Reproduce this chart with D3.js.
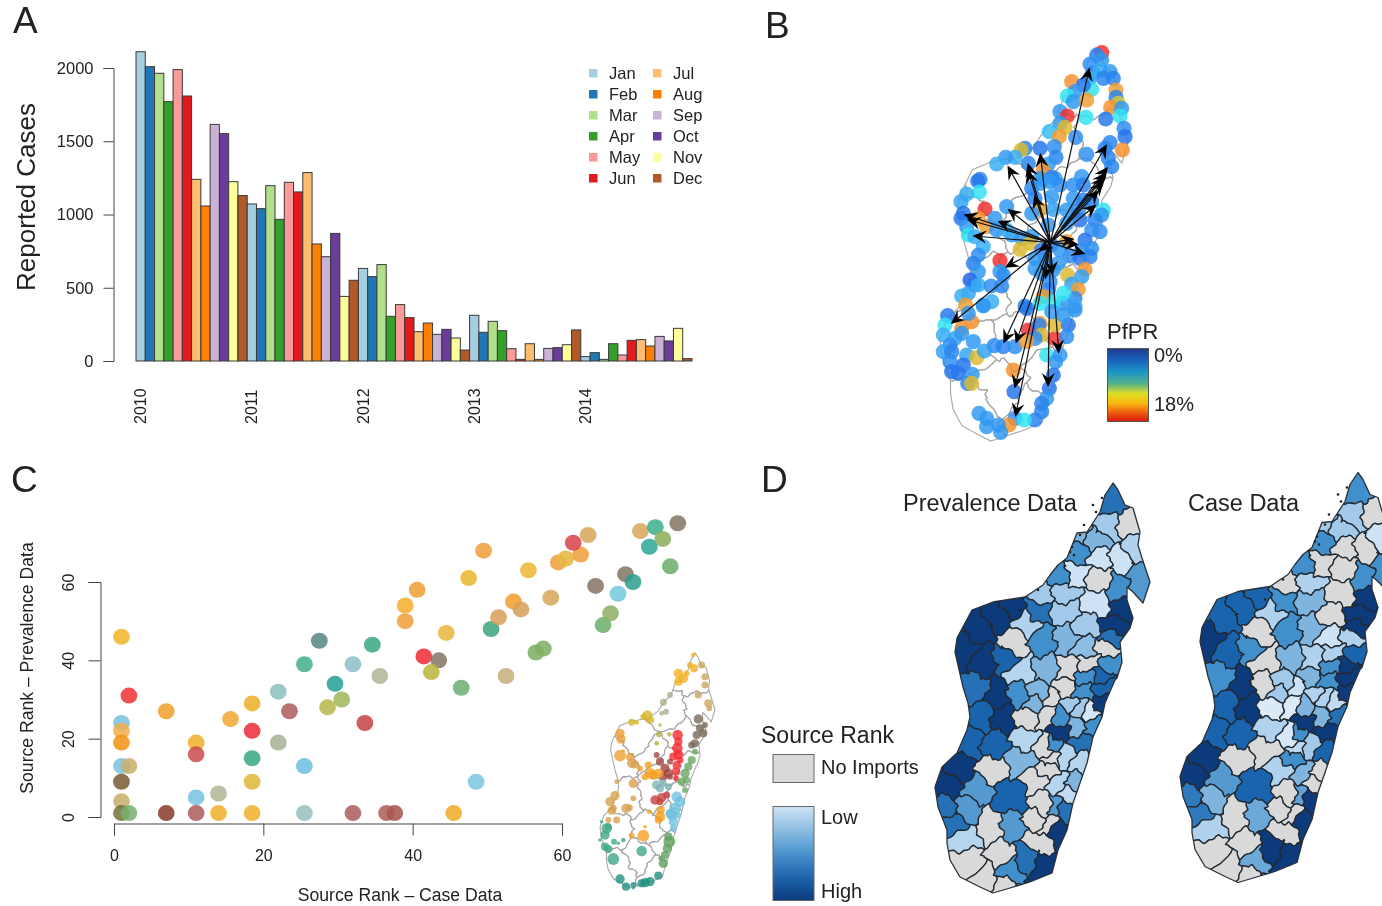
<!DOCTYPE html>
<html><head><meta charset="utf-8">
<script src="https://cdn.jsdelivr.net/npm/d3@7/dist/d3.min.js"></script>
<style>html,body{margin:0;background:#fff}svg{display:block;filter:blur(.5px)}text{font-family:"Liberation Sans",Arial,sans-serif;fill:#222}</style>
</head><body><svg id="c" width="1382" height="906"></svg>
<script>
// ---------- Panel A
const years=["2010","2011","2012","2013","2014"];
const months=["Jan","Feb","Mar","Apr","May","Jun","Jul","Aug","Sep","Oct","Nov","Dec"];
const cases2010=[2111,2009,1964,1770,1989,1809,1240,1058,1615,1552,1224,1129];
const cases2011=[1072,1040,1197,967,1220,1154,1286,799,712,871,441,551];
const cases2012=[632,576,658,305,385,296,200,259,182,216,157,75];
const cases2013=[312,196,271,207,84,11,118,11,86,91,111,212];
const cases2014=[30,57,11,118,41,141,146,102,168,137,223,16];
const caseTicks=[0,500,1000,1500,2000];
// ---------- Panel B (crop-window read-offs, three windows)
const pfNorthX=[425,410,425,390,400,420,450,460,430,390,395,335,370,345,322,340,380,300,322,378,300,315,268,298,347,468,468,475,452,485,480,437,492,495,450,487,435,380,283,288,240,265,195,183,165,137,110,205,250,445,455,285,60,240,275,365];
const pfNorthY=[38,45,60,72,100,90,95,115,115,115,148,125,135,155,168,185,180,215,228,232,250,262,275,290,292,150,172,190,202,205,228,237,265,290,308,330,325,343,320,352,325,372,325,330,352,352,372,370,392,355,380,415,418,415,412,410];
const pfNorthV=[18,2,3,2.5,2,4,3,2,2,4,6,14,1.5,3,6,3,13,3,18,6,3,11,4.5,13,2.5,13,2,10,14,3,6,1.5,2.5,1.5,2,14,2,2.5,2.5,2,1.5,3,2,11,4,3,4,2,14,2,2,3,2,3,2,3];
const pfMidX=[128,133,95,78,150,215,85,78,130,95,155,180,185,100,120,145,130,115,130,195,195,205,105,118,130,100,80,168,200,92,145,170,290,315,345,375,415,445,350,300,315,290,355,415,445,395,430,470,505,500,480,435,395,340,470,450,495,470,395,440,405,435,465,290,260,285,255,320,350,375,300,330,370,300,320,355,450,398,440,410,430,420,385,420,345,340,325,270,315,355,385,230,215];
const pfMidY=[33,66,72,95,117,110,130,145,145,170,170,145,180,195,200,230,255,280,305,272,305,315,330,345,345,370,378,348,348,405,405,395,55,40,35,45,45,45,80,85,118,130,118,85,90,120,120,95,120,135,150,150,160,165,180,210,185,235,215,240,258,265,260,200,205,220,238,240,225,240,265,270,280,295,310,300,298,315,320,342,358,385,400,410,335,360,380,408,400,395,370,195,180];
const pfMidV=[1.5,6,4,3.5,18,3,1.5,1.5,13,3,13,3,3,6,4,4,2.5,2,3,18,3,2.5,1,1.5,4,3.5,4,2.5,2,13,3,4,2,3,3,2.5,2.5,2,3,2,13,3,3.5,3,2,3,2.5,2,6,3,2,1.5,3,3,2.5,1.5,2.5,2.5,13,2.5,2.5,1.5,2,3,3,11,11,1.5,1.5,3,3,3,3,3,3,3,14,11,3.5,3.5,13,2.5,3,3.5,2.5,2,13,2,6,6,6,3,4];
const pfSouthX=[38,30,80,110,100,145,25,60,80,115,45,25,50,95,125,148,178,205,240,45,85,50,70,112,98,110,235,237,275,315,280,312,320,360,360,400,385,420,350,395,300,275,335,375,362,355,343,335,320,320,300,240,268,222,190,197,155,155,132];
const pfSouthY=[32,60,70,50,25,3,90,100,85,110,120,140,140,150,158,138,122,125,125,170,180,200,205,208,235,235,195,260,10,55,75,60,90,100,60,60,30,15,20,95,100,110,150,150,170,210,250,280,295,320,345,340,345,360,360,382,365,340,325];
const pfSouthV=[1.5,6,14,14,3,3,4,3.5,3,3,2.5,3.5,2,3.5,11,3.5,2.5,2,2.5,2.5,1.5,1.5,1.5,3,2,11,14,1.5,1.5,13,18,2,11,18,11,1.5,3,3,3,2.5,2.5,13,6,3,3,1.5,1.5,3,2,2,2,2.5,6,14,3,3,3,3,3];
const arrowHeadX=[512,563,566,560,555,552,538,530,462,475,495,400,380,420,388,290,288,292,255,98,262,365,165,148,138,240,270,268,348,328,328,365];
const arrowHeadY=[88,318,385,402,415,430,455,497,598,613,640,700,712,935,1035,1125,1040,905,905,848,680,630,588,540,525,545,510,382,470,375,395,345];
const pfprTicks=["0%","18%"];
// ---------- Panel C
const caseRankX=[1,2,1,1,1,1,2,1,1,1,2,7,7,11,11,11,11,14,14,15.6,18.5,18.5,18.5,18.5,18.5,22,22,23.5,25.5,25.5,25.5,27.5,28.6,29.6,30.5,32,32,33.6,34.6,35.6,36.5,37.6,39,39,40.6,41.5,43.5,42.5,44.5,45.5,46.5,48.5,47.5,49.5,50.5,51.5,52.5,53.5,54.5,55.5,56.5,57.5,58.5,59.5,60.5,62.5,61.5,63.5,64.5,65.5,66.5,67.5,68.5,69.5,70.5,71.7,72.5,73.5,74.5,75.5];
const prevRankY=[46,31,24,22,19,13,13,9,4,1,1,1,27,19,16,5,1,6,1,25,29,22,15,9,1,32,19,27,39,13,1,45,28,34,30,39,1,24,44,36,1,1,54,50,58,41,40,37,47,1,33,9,61,68,48,51,36,55,53,63,42,43,56,65,66,67,70,72,59,49,52,57,62,60,73,69,74,71,64,75];
const rankColors=["#f2b62e","#f03838","#7cc4e0","#f2b04e","#f5941a","#7cc4e0","#c8b070","#806038","#c8b070","#77783f","#7ab070","#8a4030","#f0a030","#f0b030","#cc5050","#7cc4e0","#b06060","#b0b898","#f0b030","#f0a838","#eeb030","#f03040","#40a888","#e0b840","#f0b030","#90c0c0","#a8b498","#b06060","#48b090","#70c0e0","#98c0c0","#5a8a88","#b8b850","#28a098","#a0b860","#90c0c8","#b06060","#c84848","#40a888","#b0b898","#b06060","#a85850","#f5b030","#f0a040","#f0a038","#f03038","#887868","#b8b840","#e8b840","#f0ac28","#70b078","#80c8e0","#e8b830","#f0a040","#40a880","#d8a060","#c8b080","#f0a030","#d8a060","#ecb838","#80b068","#80b068","#d8a860","#f0a040","#e8b840","#f0a040","#d84850","#d8a860","#887868","#70b070","#90b068","#78c8e0","#887868","#30a090","#d8a860","#30a898","#40b090","#90b060","#70b070","#887868"];
const rankTicks=[0,20,40,60];
// inset clusters
const insetX=[312,265,280,265,290,310,300,335,345,345,325,355,358,325,330,340,320,315,305,345,220,240,228,215,172,182,160,125,140,207,238,200,210,90,93,100,90,120,263,265,262,265,250,270,260,258,258,200,210,225,235,220,240,240,175,180,190,205,165,150,125,135,80,75,60,65,70,108,118,80,55,130,130,200,210,220,235,195,215,230,210,212,210,205,178,160,125,165,260,270,255,245,262,250,240,250,315,305,295,285,275,290,285,235,238,232,225,220,212,50,45,55,35,30,45,55,70,72,100,85,155,205,180,165,155,130,108,90,130];
const insetY=[70,85,100,110,85,30,60,60,95,120,150,175,190,222,250,265,270,295,300,240,172,150,200,205,212,225,215,232,232,268,268,295,240,265,282,318,332,336,270,290,310,328,335,345,360,380,400,330,350,370,385,395,395,350,360,385,390,385,395,370,355,358,410,452,470,497,490,490,488,525,525,415,460,420,430,415,425,465,458,450,470,495,515,525,500,572,572,545,455,470,490,510,510,530,505,550,320,345,365,385,410,405,435,575,590,610,630,655,640,550,570,545,530,585,605,612,642,590,585,595,618,692,710,713,715,720,725,702,730];
const insetR=[7,8,8,7,5,4,5,6,6,6,6,7,5,8,7,7,7,7,6,5,6,5,5,4,9,6,5,6,4,5,4,4,3,8,8,3,10,7,9,7,9,8,7,6,7,7,5,5,7,8,8,7,5,5,6,9,8,8,6,5,8,7,4,8,8,7,6,8,6,6,5,8,5,8,7,6,6,8,8,6,6,7,9,6,4,10,5,3,9,9,10,9,6,8,8,6,5,7,7,8,7,6,5,7,10,8,7,8,4,9,8,6,3,3,7,7,10,5,4,3,9,7,8,8,7,5,7,8,2];
const insetCluster=[0,0,0,0,0,0,0,1,1,1,1,1,1,2,2,2,2,2,2,2,3,3,3,3,4,4,4,4,4,5,5,5,5,6,6,6,6,6,7,7,7,7,7,7,7,7,7,8,8,8,8,8,8,8,9,9,9,9,9,9,10,10,10,10,10,10,10,10,10,10,10,10,10,11,11,11,11,12,12,12,12,9,9,9,9,9,9,9,13,13,13,13,13,13,13,13,14,14,14,14,14,14,14,15,15,15,15,15,15,16,16,16,16,16,16,16,16,16,16,16,16,17,17,17,17,17,17,17,17];
const clusterColors=["#f2b020","#c8a860","#7a6a5a","#a9b08c","#d6b52c","#b5b040","#ee9f38","#f52a30","#a04840","#f5a020","#d8a050","#7fb5b5","#c84040","#70c0e0","#6aa860","#60a060","#40a888","#209080"];
// ---------- Panel D: district centres and source ranks (0 = no imports)
const districtX=[550,530,595,495,445,445,505,575,610,440,385,510,630,570,330,405,500,410,250,320,205,570,555,465,290,150,410,340,250,465,545,530,105,165,225,270,350,415,475,545,465,515,
140,200,215,265,325,370,400,460,520,510,310,420,450,480,155,290,350,395,440,485,390,190,290,115,375,455,350,405,450,275,365,90,185,355,430,320,390,50,140,245,410,340,380,410,40,110,75,245,320,350,180,385,110,330,295,210,120,235,345,165,215];
const districtY=[85,150,140,195,180,235,250,250,225,295,305,310,320,340,355,360,385,405,395,405,430,405,450,450,445,460,490,500,505,520,490,520,520,560,550,590,585,585,565,565,610,610,
645,665,725,655,650,665,645,645,630,690,685,690,705,707,720,730,725,725,760,755,775,810,795,805,810,800,820,840,860,860,850,875,885,885,925,915,925,935,945,965,960,990,990,1005,990,1005,1045,1055,1035,1055,1060,1075,1085,1100,1150,1140,1160,1185,1180,1205,1235];
const prevalenceRank=[3.7,1.5,0,2,2,3,.7,.7,1.3,.7,3,0,2.7,3,1.5,1.5,.7,1.5,5,3.7,5,5,5,1.5,1.3,5,2,3,0,1.8,3.7,0,5,5,4,1.2,2,0,0,3,3,4,
3.7,5,5,3,2,0,0,3,4,5,2,1.5,1.5,.5,4,0,0,3,2,3,5,4,1.2,4,3,3.7,0,1.2,1.2,2,0,5,0,0,2,0,1.2,5,2.7,4,1,0,2.7,3.7,3.7,2.7,3.7,2.7,0,0,0,5,1.2,0,3.7,0,0,3,5,0,0];
const caseDataRank=[3,1.5,0,1.5,1.5,3,0,0,.7,0,3,0,3,3,0,1.3,0,2,4,3,4,5,5,0,1.3,4,2,3,0,.7,5,1.3,5,4,3,0,2,1.3,1.3,4,3,5,
3,5,5,0,1.5,.7,2,3,5,5,1.5,1.3,1.3,1,4,.4,.4,2,2,3.7,5,4,1.3,4,3,5,.5,1.5,4,0,1,5,0,3,0,1.3,2,5,2.7,4,0,0,2.5,5,3.5,2,3.5,2.3,0,0,0,5,1.3,0,5,0,0,2.3,5,0,0];
const rankBreaks=[.4,1.3,2,3,4,5];
const rankShades=["#dceaf8","#b0d2ee","#7fb4de","#418fcb","#1a64ad","#0c3a7b"];
// Coast and region centres, in map units
const coastX=[1113,1118,1125,1133,1140,1138,1142,1150,1143,1133,1127,1127,1133,1130,1120,1122,1117,1115,1105,1102,1093,1087,1080,1073,1067,1058,1052,1030,1010,993,980,960,950,947,947,938,935,942,957,967,970,968,963,955,957,972,993,1025,1043,1050,1058,1067,1077,1087,1100,1105];
const coastY=[483,490,505,508,532,545,558,582,603,592,587,600,618,628,642,662,678,680,703,717,737,763,783,803,830,850,873,882,888,893,887,877,860,843,830,807,787,767,753,730,717,703,687,652,638,610,602,597,585,575,565,558,533,532,512,495];
const regionX=[1112,1125,1065,1010,1090,970,1030,1105,1060,985,1035,1090,1065,1030,960,1060,1010,970,1040];
const regionY=[520,585,590,640,625,670,655,690,680,735,730,740,770,790,790,820,840,860,860];
const isletX=[1093,1072,1084,1038,1020,1102,1074,1065,1096,1080,1070];
const isletY=[505,547,525,590,610,498,555,566,512,535,552];

const svg=d3.select("#c");
const defs=svg.append("defs");
function txt(x,y,s,size,o={}){const t=svg.append("text").attr("x",x).attr("y",y).attr("font-size",size).text(s);
 if(o.anchor)t.attr("text-anchor",o.anchor); if(o.rot!=null)t.attr("transform",`rotate(${o.rot},${x},${y})`); if(o.fill)t.style("fill",o.fill); return t;}
txt(13,33,"A",37);txt(765,38,"B",37);txt(11,492,"C",37);txt(761,492,"D",37);

// ===== A
const monthly=[cases2010,cases2011,cases2012,cases2013,cases2014].flat();
const xA=d3.scaleBand().domain(d3.range(monthly.length)).range([136,692]).paddingInner(0);
const yA=d3.scaleLinear().domain([0,2000]).range([361,68]);
const monthColor=d3.scaleOrdinal(months,d3.schemePaired);
svg.append("g").selectAll("rect").data(monthly).join("rect")
 .attr("x",(d,i)=>xA(i)).attr("width",xA.bandwidth()).attr("y",d=>yA(d)).attr("height",d=>yA(0)-yA(d))
 .attr("fill",(d,i)=>monthColor(months[i%12])).attr("stroke","#3a3a3a").attr("stroke-width",1);
const axA=svg.append("g").attr("transform","translate(113.5,0)").call(d3.axisLeft(yA).tickValues(caseTicks).tickSize(10).tickPadding(10).tickFormat(d3.format("d")));
axA.selectAll("text").attr("font-size",16.5).style("font-family",'"Liberation Sans"');
axA.selectAll("line,path").attr("stroke","#444");
txt(35,197,"Reported Cases",26,{anchor:"middle",rot:-90});
years.forEach((y,i)=>txt(xA(i*12)+xA.bandwidth()/2+5.5,424,y,16,{rot:-90}));
const legX=[589,653],legT=[609,673];
months.forEach((m,i)=>{const c=i<6?0:1,yy=73+(i%6)*21;
 svg.append("rect").attr("x",legX[c]).attr("y",yy-4).attr("width",8.5).attr("height",8.5).attr("fill",monthColor(m));
 txt(legT[c],yy+6,m,16.5);});

// ===== shared map helpers
const coast=coastX.map((x,i)=>[x,coastY[i]]);
const seedX=d3.scaleLinear([0,690],[930,1160]),seedY=d3.scaleLinear([0,630],[475,685]);
const fillShade=d3.scaleLinear(rankBreaks,rankShades);
const cellFill=r=>r===0?"#d9d9d9":fillShade(r);
let mapId=0;
const closedLine=d3.line().curve(d3.curveLinearClosed);
function clip(px){const id="m"+(mapId++);defs.append("clipPath").attr("id",id).append("path").attr("d",closedLine(px));return id;}
// organic boundaries: subdivide the cell edges, bend them by a smooth position-based field
function organic(poly,amp,k){
 const out=[];
 for(let i=0;i<poly.length-1;i++){const a=poly[i],b=poly[i+1],len=Math.hypot(b[0]-a[0],b[1]-a[1]),n=Math.max(1,Math.ceil(len/(3/k)));
  for(let j=0;j<n;j++){const t=j/n,x=a[0]+(b[0]-a[0])*t,y=a[1]+(b[1]-a[1])*t;
   out.push([x+amp*(Math.sin((y*.23+x*.07)*k)+.5*Math.sin(y*.61*k+x*.13*k)),y+amp*(Math.sin((x*.21+y*.09)*k)+.5*Math.sin(x*.57*k+y*.17*k))]);}}
 return closedLine(out);
}
function grayMap(sx,sy,w,k){
 const px=coast.map(p=>[sx(p[0]),sy(p[1])]),id=clip(px);
 const pts=regionX.map((x,i)=>[sx(x),sy(regionY[i])]);
 const v=d3.Delaunay.from(pts).voronoi([sx(900),sy(440),sx(1190),sy(930)]);
 const g=svg.append("g");
 g.append("g").attr("clip-path",`url(#${id})`).selectAll("path").data(pts).join("path").attr("d",(d,i)=>organic(v.cellPolygon(i),3/k,k)).attr("fill","none").attr("stroke","#aaa").attr("stroke-width",w);
 g.append("path").attr("d",closedLine(px)).attr("fill","none").attr("stroke","#aaa").attr("stroke-width",w);
}

// ===== B
const bX=d3.scaleLinear([935,1150],[940,1128]),bY=d3.scaleLinear([483,893],[48,441]);
grayMap(bX,bY,1.2,1);
const pfColor=d3.scaleLinear([0,2,4,6,10,14,18],["#1a4ae0","#2a84f0","#38aef4","#30e4f2","#d8c832","#f59030","#f03030"]);
[[pfNorthX,pfNorthY,pfNorthV,[0,540],[960,1140],[0,420],[40,180]],
 [pfMidX,pfMidY,pfMidV,[0,540],[935,1115],[0,420],[170,310]],
 [pfSouthX,pfSouthY,pfSouthV,[0,540],[935,1115],[0,420],[305,445]]].forEach(([X,Y,V,dx,rx,dy,ry])=>{
 const sx=d3.scaleLinear(dx,rx),sy=d3.scaleLinear(dy,ry);
 svg.append("g").selectAll("circle").data(V).join("circle").attr("cx",(d,i)=>sx(X[i])).attr("cy",(d,i)=>sy(Y[i])).attr("r",7.6)
  .attr("fill",d=>pfColor(d)).attr("opacity",.84);
});
defs.append("marker").attr("id","ah").attr("viewBox","-13 -7 16 14").attr("refX",0).attr("refY",0).attr("markerWidth",16).attr("markerHeight",14).attr("markerUnits","userSpaceOnUse").attr("orient","auto")
 .append("path").attr("d","M2,0L-12,-6.5L-7,0L-12,6.5Z").attr("fill","#000");
const arX=d3.scaleLinear([0,880],[920,1210.5]),arY=d3.scaleLinear([0,1230],[40,450]);
svg.append("g").selectAll("line").data(arrowHeadX).join("line").attr("x1",arX(395)).attr("y1",arY(608))
 .attr("x2",d=>arX(d)).attr("y2",(d,i)=>arY(arrowHeadY[i])).attr("stroke","#111").attr("stroke-width",1.2).attr("marker-end","url(#ah)");
const gr=defs.append("linearGradient").attr("id","pf").attr("x1",0).attr("x2",0).attr("y1",0).attr("y2",1);
[["0","#1d3a8e"],[".15","#1a5fb8"],[".32","#1b95c8"],[".48","#52b08a"],[".62","#dfe024"],[".75","#f8b90e"],[".88","#ee5a10"],["1","#d91a10"]].forEach(s=>gr.append("stop").attr("offset",s[0]).attr("stop-color",s[1]));
txt(1107,339,"PfPR",22);
svg.append("rect").attr("x",1107.5).attr("y",348.5).attr("width",41).attr("height",73).attr("fill","url(#pf)").attr("stroke","#555");
txt(1154,362,pfprTicks[0],20);txt(1154,411,pfprTicks[1],20);

// ===== C
const xC=d3.scaleLinear([0,60],[114,562]),yC=d3.scaleLinear([0,60],[817,582]);
svg.append("g").selectAll("ellipse").data(prevRankY).join("ellipse").attr("cx",(d,i)=>xC(caseRankX[i])).attr("cy",d=>yC(d)).attr("rx",8.4).attr("ry",8)
 .attr("fill",(d,i)=>rankColors[i]).attr("opacity",.88);
const axCx=svg.append("g").attr("transform","translate(0,823.5)").call(d3.axisBottom(xC).tickValues(rankTicks).tickSize(12).tickPadding(14).tickFormat(d3.format("d")));
const axCy=svg.append("g").attr("transform","translate(100.5,0)").call(d3.axisLeft(yC).tickValues(rankTicks).tickSize(12).tickPadding(15).tickFormat(d3.format("d")));
[axCx,axCy].forEach(a=>{a.selectAll("text").attr("font-size",16).style("font-family",'"Liberation Sans"');a.selectAll("line,path").attr("stroke","#444");});
axCy.selectAll("text").attr("text-anchor","middle").attr("dy",0).attr("transform",function(){const t=d3.select(this);return `rotate(-90,${t.attr("x")},${t.attr("y")||0})`;}).attr("dx",0);
txt(33,668,"Source Rank \u2013 Prevalence Data",17.6,{anchor:"middle",rot:-90});
txt(400,901,"Source Rank \u2013 Case Data",17.6,{anchor:"middle"});
const iX=d3.scaleLinear([935,1150],[600,715]),iY=d3.scaleLinear([483,893],[653,888]);
grayMap(iX,iY,1.1,1.8);
const insX=d3.scaleLinear([0,405],[590,725]),insY=d3.scaleLinear([0,750],[645,895]);
svg.append("g").selectAll("circle").data(insetR).join("circle").attr("cx",(d,i)=>insX(insetX[i])).attr("cy",(d,i)=>insY(insetY[i])).attr("r",d=>d/1.7)
 .attr("fill",(d,i)=>clusterColors[insetCluster[i]]).attr("opacity",.8);

// ===== D
function choropleth(dx,dy,ranks){
 const sx=d3.scaleLinear([900,1200],[900+dx,1200+dx]),sy=d3.scaleLinear([470,900],[470+dy,900+dy]);
 const px=coast.map(p=>[sx(p[0]),sy(p[1])]),id=clip(px);
 const pts=districtX.map((x,i)=>[sx(seedX(x)),sy(seedY(districtY[i]))]);
 const v=d3.Delaunay.from(pts).voronoi([sx(900),sy(450),sx(1190),sy(930)]);
 const g=svg.append("g").attr("clip-path",`url(#${id})`);
 g.selectAll("path").data(ranks).join("path").attr("d",(d,i)=>organic(v.cellPolygon(i).map(p=>[p[0]-dx,p[1]-dy]),2.4,1.25)).attr("transform",`translate(${dx},${dy})`)
  .attr("fill",d=>cellFill(d)).attr("stroke","#222a33").attr("stroke-width",1.35).attr("stroke-linejoin","round");
 svg.append("path").attr("d",closedLine(px)).attr("fill","none").attr("stroke","#2a3038").attr("stroke-width",1.3).attr("stroke-linejoin","round");
 svg.append("g").selectAll("circle").data(isletX).join("circle").attr("cx",d=>sx(d)).attr("cy",(d,i)=>sy(isletY[i])).attr("r",1.3).attr("fill","#222");
}
choropleth(0,0,prevalenceRank);
choropleth(245,-10.5,caseDataRank);
txt(903,511,"Prevalence Data",23.5);
txt(1188,511,"Case Data",23.5);
txt(761,743,"Source Rank",23);
svg.append("rect").attr("x",773).attr("y",754.5).attr("width",41).attr("height",28).attr("fill","#d9d9d9").attr("stroke","#666");
txt(821,774,"No Imports",20);
const grD=defs.append("linearGradient").attr("id","sr").attr("x1",0).attr("x2",0).attr("y1",0).attr("y2",1);
[["0","#cfe2f4"],[".25","#8dbde2"],[".5","#4a93cc"],[".75","#1f66ad"],["1","#0c3a7b"]].forEach(s=>grD.append("stop").attr("offset",s[0]).attr("stop-color",s[1]));
svg.append("rect").attr("x",773).attr("y",806.5).attr("width",41).attr("height",94).attr("fill","url(#sr)").attr("stroke","#666");
txt(821,824,"Low",20);txt(821,898,"High",20);
</script></body></html>
